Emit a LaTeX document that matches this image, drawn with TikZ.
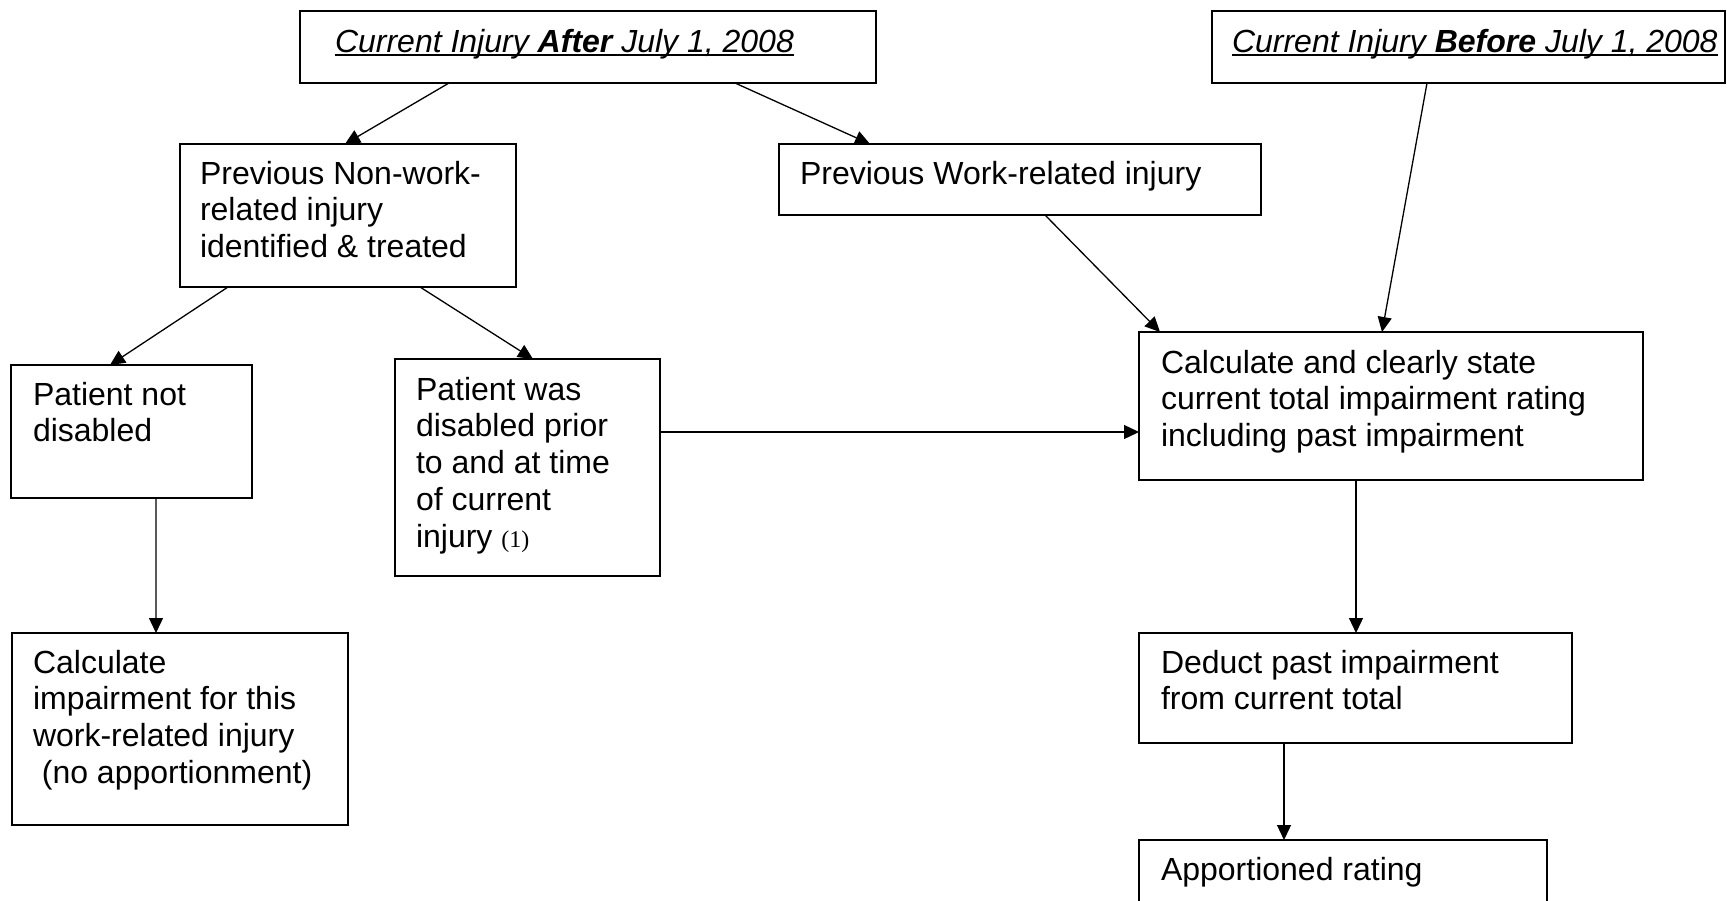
\documentclass[tikz,border=0pt]{standalone}
\usepackage{fontspec}
\setmainfont{Liberation Sans}
\newfontfamily\serifnum{Liberation Serif}
\usetikzlibrary{arrows.meta}
\newcommand\tline[1]{\hbox{#1}}
\newcommand\ulined[1]{\setbox0\hbox{#1}\rlap{\rule[-3.5bp]{\wd0}{1.8bp}}\box0}
\begin{document}
\begin{tikzpicture}[x=1bp,y=-1bp,
  box/.style={draw=black, line width=1.6bp, inner sep=0pt, outer sep=0pt, anchor=north west},
  txt/.style={inner sep=0pt, outer sep=0pt, anchor=base west, font=\fontsize{32bp}{36.8bp}\selectfont},
  conn/.style={line width=1.3bp, -{Triangle[length=15bp,width=14bp]}}
]
\useasboundingbox (0,0) rectangle (1727,900);
\clip (0,0) rectangle (1727,900);

% boxes
\node[box, minimum width=576bp, minimum height=72bp] (A) at (300,11) {};
\node[box, minimum width=513bp, minimum height=72bp] (B) at (1212,11) {};
\node[box, minimum width=336bp, minimum height=143bp] (C) at (180,144) {};
\node[box, minimum width=482bp, minimum height=71bp] (D) at (779,144) {};
\node[box, minimum width=241bp, minimum height=133bp] (E) at (11,365) {};
\node[box, minimum width=265bp, minimum height=217bp] (F) at (395,359) {};
\node[box, minimum width=504bp, minimum height=148bp] (G) at (1139,332) {};
\node[box, minimum width=336bp, minimum height=192bp] (H) at (12,633) {};
\node[box, minimum width=433bp, minimum height=110bp] (I) at (1139,633) {};
\node[box, minimum width=408bp, minimum height=100bp] (J) at (1139,840) {};

% texts
\node[txt] (At) at (335,52) {\itshape\ulined{Current Injury \textbf{After} July 1, 2008}};
\node[txt] (Bt) at (1232,52) {\itshape\ulined{Current Injury \textbf{Before} July 1, 2008}};
\node[txt] (Ct) at (200,184) {\vtop{\tline{Previous Non-work-}\tline{related injury}\tline{identified \& treated}}};
\node[txt] (Dt) at (800,184) {Previous Work-related injury};
\node[txt] (Et) at (33,405) {\vtop{\tline{Patient not}\tline{disabled}}};
\node[txt] (Ft) at (416,400) {\vtop{\tline{Patient was}\tline{disabled prior}\tline{to and at time}\tline{of current}\tline{injury {\serifnum\fontsize{24bp}{24bp}\selectfont(1)}}}};
\node[txt] (Gt) at (1161,373) {\vtop{\tline{Calculate and clearly state}\tline{current total impairment rating}\tline{including past impairment}}};
\node[txt] (Ht) at (33,673) {\vtop{\tline{Calculate}\tline{impairment for this}\tline{work-related injury}\tline{\ (no apportionment)}}};
\node[txt] (It) at (1161,673) {\vtop{\tline{Deduct past impairment}\tline{from current total}}};
\node[txt] (Jt) at (1161,880) {Apportioned rating};

% connectors
\draw[conn] ([xshift=149bp]A.south west) -- ([xshift=165bp]C.north west);
\draw[conn] ([xshift=435bp]A.south west) -- ([xshift=91bp]D.north west);
\draw[conn] ([xshift=48bp]C.south west) -- ([xshift=99bp]E.north west);
\draw[conn] ([xshift=240bp]C.south west) -- ([xshift=138bp]F.north west);
\coordinate (fg) at ([yshift=-73bp]F.north east);
\draw[conn] (fg) -- (fg -| G.west);
\draw[conn] ([xshift=266bp]D.south west) -- ([xshift=21bp]G.north west);
\draw[conn] ([xshift=215bp]B.south west) -- ([xshift=243bp]G.north west);
\draw[conn] ([xshift=145bp]E.south west) -- ([xshift=144bp]H.north west);
\draw[conn] ([xshift=217bp]G.south west) -- ([xshift=217bp]I.north west);
\draw[conn] ([xshift=145bp]I.south west) -- ([xshift=145bp]J.north west);
\end{tikzpicture}
\end{document}
